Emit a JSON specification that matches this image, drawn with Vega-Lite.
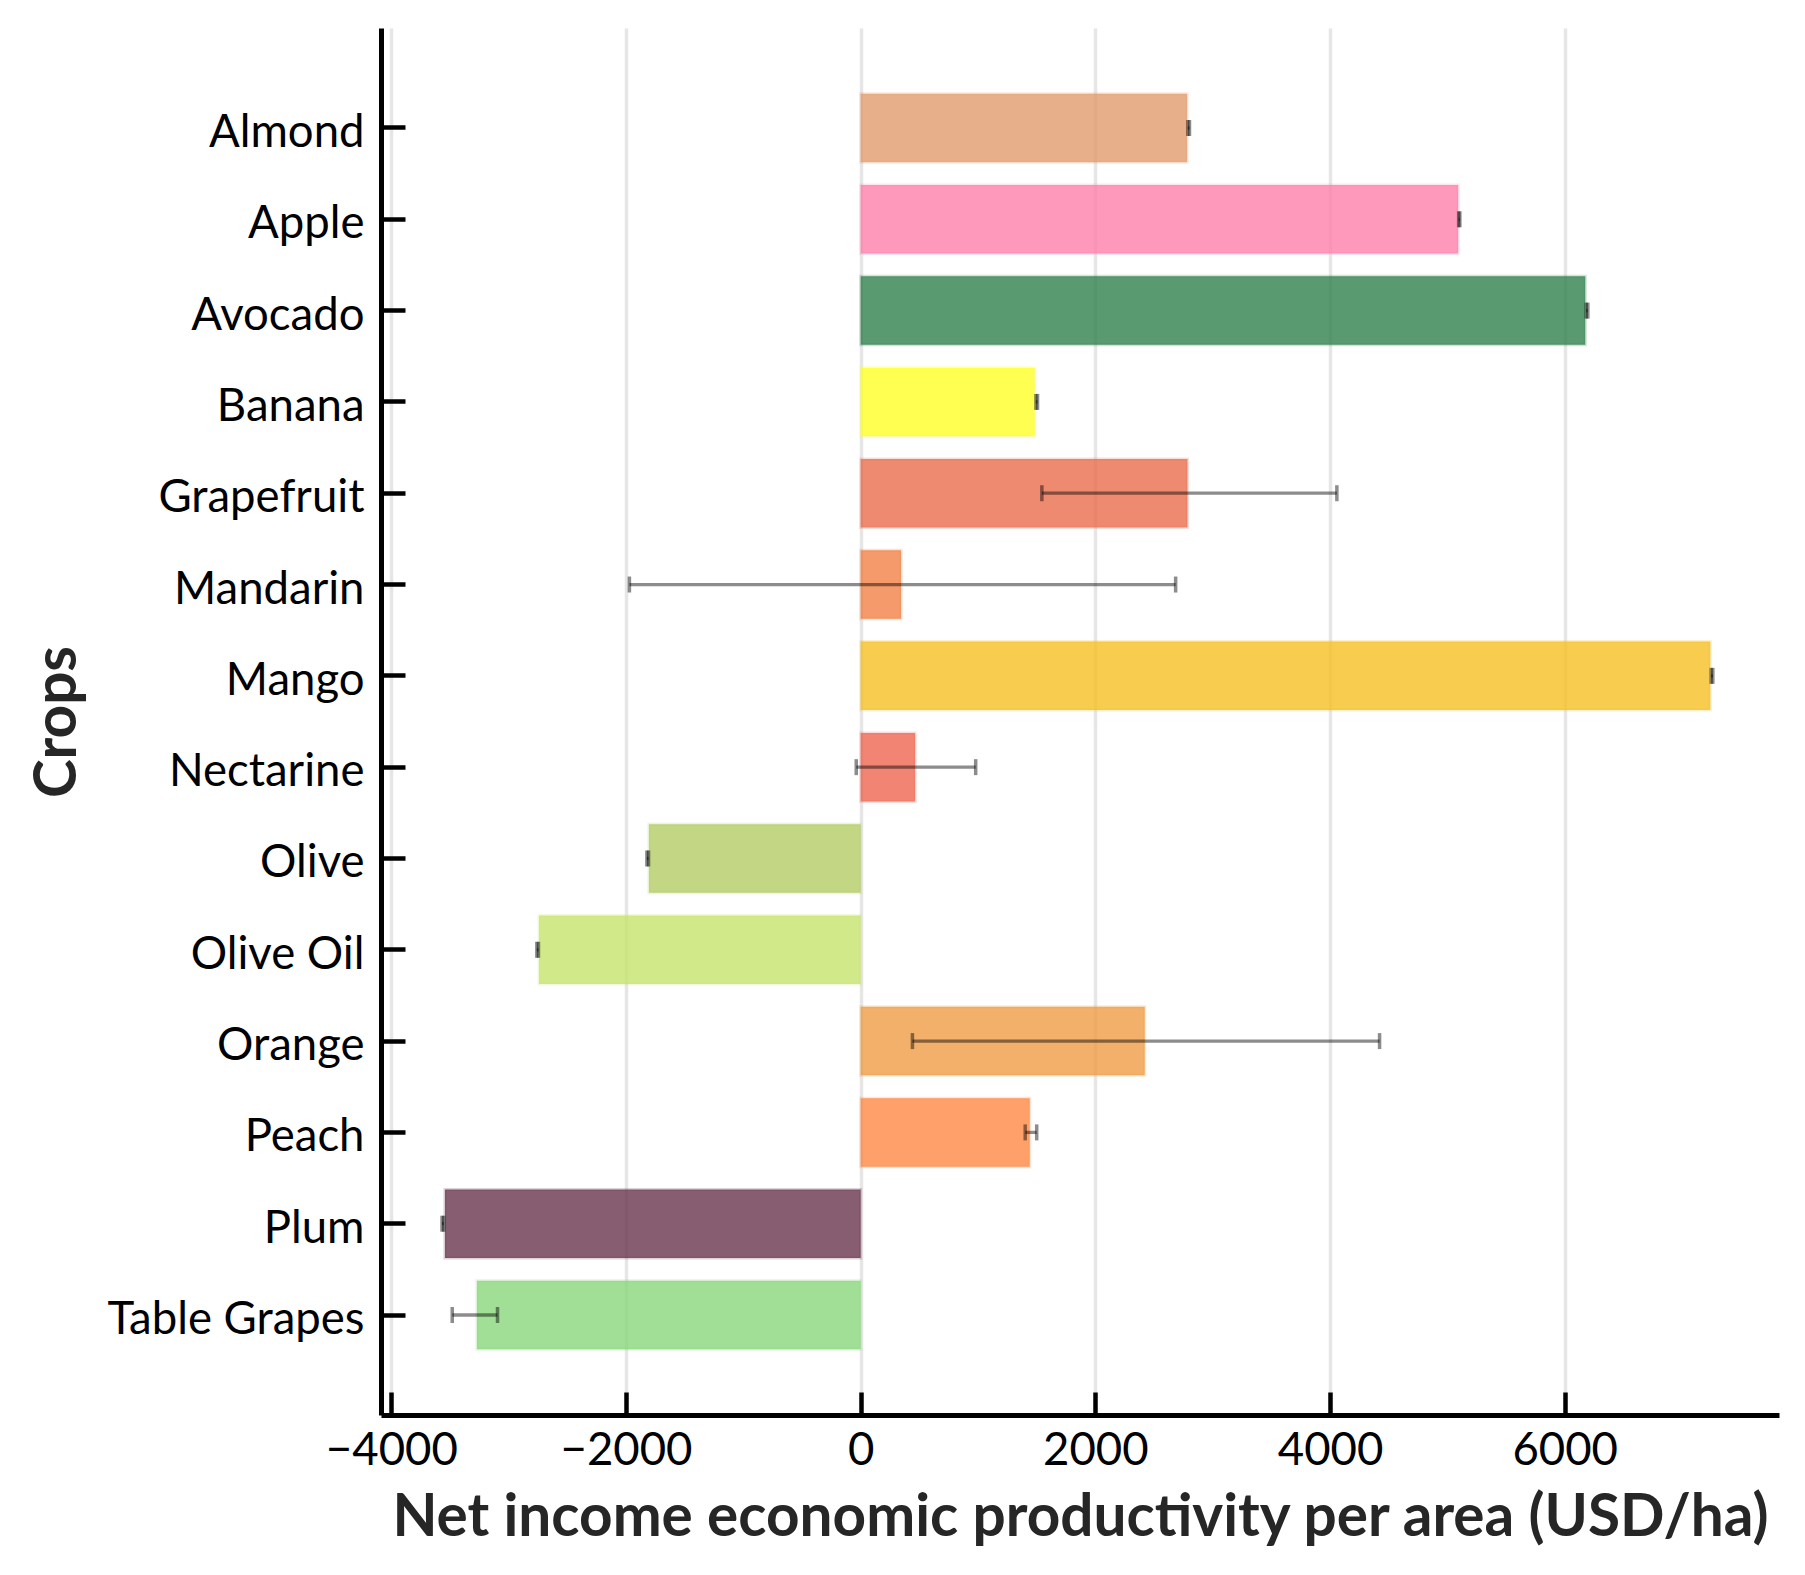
{
  "$schema": "https://vega.github.io/schema/vega-lite/v6.json",
  "width": 1398,
  "height": 1387,
  "autosize": "none",
  "padding": {"left": 381, "top": 28, "right": 26, "bottom": 160},
  "background": "white",
  "config": {
    "view": {"stroke": null},
    "font": "Lato",
    "axis": {
      "labelFont": "Lato",
      "labelFontSize": 45.5,
      "labelColor": "black",
      "labelLimit": 600,
      "titleFont": "Lato",
      "titleFontSize": 58.5,
      "titleFontWeight": "bold",
      "titleColor": "#262626",
      "domainColor": "black",
      "domainWidth": 5,
      "tickColor": "black",
      "tickWidth": 4.5
    }
  },
  "data": {
    "values": [
      {"crop": "Almond", "value": 2782, "low": 2788, "high": 2802, "color": "#E29C6D"},
      {"crop": "Apple", "value": 5092, "low": 5096, "high": 5106, "color": "#FF80AA"},
      {"crop": "Avocado", "value": 6175, "low": 6183, "high": 6197, "color": "#31814C"},
      {"crop": "Banana", "value": 1483, "low": 1493, "high": 1507, "color": "#FFFF26"},
      {"crop": "Grapefruit", "value": 2785, "low": 1544, "high": 4058, "color": "#EA6D4C"},
      {"crop": "Mandarin", "value": 344, "low": -1971, "high": 2684, "color": "#F28145"},
      {"crop": "Mango", "value": 7241, "low": 7248, "high": 7262, "color": "#F5BF23"},
      {"crop": "Nectarine", "value": 464, "low": -38, "high": 980, "color": "#EF6551"},
      {"crop": "Olive", "value": -1805, "low": -1822, "high": -1808, "color": "#B3CC65"},
      {"crop": "Olive Oil", "value": -2742, "low": -2760, "high": -2746, "color": "#C7E36D"},
      {"crop": "Orange", "value": 2421, "low": 441, "high": 4422, "color": "#EF9C45"},
      {"crop": "Peach", "value": 1441, "low": 1402, "high": 1500, "color": "#FF8845"},
      {"crop": "Plum", "value": -3543, "low": -3568, "high": -3554, "color": "#69364D"},
      {"crop": "Table Grapes", "value": -3271, "low": -3481, "high": -3095, "color": "#88D77A"}
    ]
  },
  "encoding": {
    "y": {
      "field": "crop",
      "type": "nominal",
      "sort": null,
      "scale": {"paddingInner": 0.25, "paddingOuter": 0.72},
      "axis": {
        "title": "Crops",
        "tickSize": -24,
        "labelPadding": 41,
        "labelOffset": 5,
        "titlePadding": 94
      }
    }
  },
  "layer": [
    {
      "mark": {"type": "bar", "fillOpacity": 0.8, "strokeWidth": 3, "strokeOpacity": 0.22},
      "encoding": {
        "x": {
          "field": "value",
          "type": "quantitative",
          "scale": {"domain": [-4088, 7826], "nice": false, "zero": false},
          "axis": {
            "title": "Net income economic productivity per area (USD/ha)",
            "values": [-4000, -2000, 0, 2000, 4000, 6000],
            "format": "d",
            "grid": true,
            "gridColor": "#e6e6e6",
            "gridWidth": 3.5,
            "tickSize": -23,
            "labelPadding": 36,
            "titlePadding": 16
          }
        },
        "x2": {"datum": 0},
        "fill": {"field": "color", "type": "nominal", "scale": null},
        "stroke": {"field": "color", "type": "nominal", "scale": null}
      }
    },
    {
      "mark": {"type": "rule", "color": "black", "opacity": 0.45, "strokeWidth": 3.3},
      "encoding": {
        "x": {"field": "low", "type": "quantitative"},
        "x2": {"field": "high"}
      }
    },
    {
      "mark": {"type": "tick", "orient": "vertical", "color": "black", "opacity": 0.45, "size": 16, "thickness": 3.5},
      "encoding": {
        "x": {"field": "low", "type": "quantitative"}
      }
    },
    {
      "mark": {"type": "tick", "orient": "vertical", "color": "black", "opacity": 0.45, "size": 16, "thickness": 3.5},
      "encoding": {
        "x": {"field": "high", "type": "quantitative"}
      }
    },
    {
      "mark": {"type": "rule", "color": "black", "strokeWidth": 5},
      "encoding": {
        "x": {"datum": 0}
      }
    }
  ]
}
